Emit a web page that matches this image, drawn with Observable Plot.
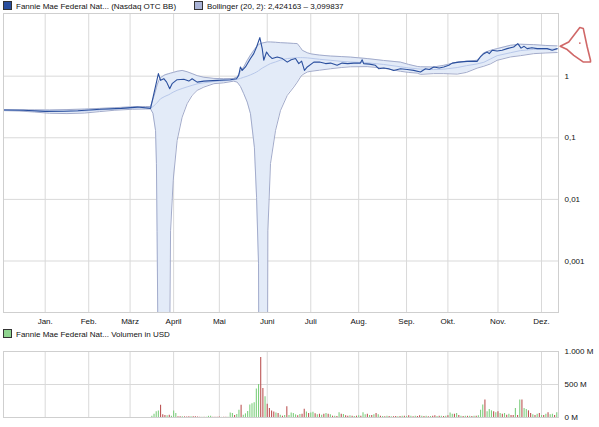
<!DOCTYPE html>
<html>
<head>
<meta charset="utf-8">
<script src="https://cdn.jsdelivr.net/npm/d3@7"></script>
<script src="https://cdn.jsdelivr.net/npm/@observablehq/plot@0.6"></script>
<style>
  html, body { margin: 0; padding: 0; background: #fff; }
  #wrap { position: relative; width: 599px; height: 427px; overflow: hidden; font-family: "Liberation Sans", Arial, sans-serif; font-size: 8px; color: #111; }
  #wrap svg { position: absolute; left: 0; }
  .leg { position: absolute; white-space: nowrap; line-height: 10px; }
  .sq { display: inline-block; width: 7px; height: 7px; border: 1px solid #333; vertical-align: -1px; margin-right: 4px; }
</style>
</head>
<body>
<div id="wrap">
  <div class="leg" style="left:3px; top:1px;"><span class="sq" style="background:#2a4f9e"></span>Fannie Mae Federal Nat... (Nasdaq OTC BB)</div>
  <div class="leg" style="left:194px; top:1px;"><span class="sq" style="background:#a9b3d6"></span>Bollinger (20, 2): 2,424163 – 3,099837</div>
  <div class="leg" style="left:3px; top:329px;"><span class="sq" style="background:#8fd48f"></span>Fannie Mae Federal Nat... Volumen in USD</div>
</div>
<script>
// ---- x axis (trading-day index, 0 = first trading day of January) ----
const monthIdx = [0, 20, 39, 59, 80, 102, 122, 144, 166, 185, 208, 228];
const monthLabels = ["Jan.", "Feb.", "März", "April", "Mai", "Juni", "Juli", "Aug.", "Sep.", "Okt.", "Nov.", "Dez."];

// ---- price y axis ----
const yTicks = [1, 0.1, 0.01, 0.001];
const yTickLabels = ["1", "0,1", "0,01", "0,001"];

// ---- price series ----
const priceDay = [-19.2,-10,0,8.4,15,25.4,35,42.4,48.4,52,53,54.5,55.8,57.2,58.3,60.6,63.7,66,67.5,69.8,72.9,79,85.1,87.9,88.9,89.7,90.5,92,94.3,95.8,97.1,98.6,99.7,100.4,101.7,102.7,104.3,106.6,109,111.2,113,115,116.5,117.8,119.1,120.4,123.4,126,128.8,131.1,134.1,136.4,139,141.8,144.8,145.6,146.3,149,151.7,153.2,155.5,157.8,160.1,163.2,166.3,169.3,172.4,174.7,176.5,178.5,181,183.1,185.4,187,190,193.8,198.4,199.9,201.5,203,204,205.3,207.6,209.9,212.2,215.2,217.1,218.6,220,221.4,223.6,226,228.3,230.6,232.9,235.2];
const priceVal = [0.283,0.28,0.268,0.27,0.275,0.29,0.30,0.315,0.30,1.10,0.855,0.91,0.80,0.627,0.755,0.877,0.89,0.832,0.91,0.80,0.832,0.855,0.877,0.91,1.03,1.41,1.24,1.41,1.93,2.32,2.97,4.23,2.80,1.81,2.47,2.18,1.93,2.05,1.93,1.69,1.85,1.93,1.60,1.75,1.24,1.41,1.69,1.70,1.60,1.63,1.50,1.63,1.60,1.63,1.63,1.85,1.60,1.57,1.50,1.32,1.36,1.32,1.24,1.32,1.28,1.24,1.17,1.32,1.28,1.41,1.36,1.41,1.50,1.63,1.69,1.74,1.74,2.05,2.32,2.47,2.32,2.63,2.56,2.63,2.80,2.97,3.38,2.85,3.05,2.80,2.90,2.80,2.80,2.80,2.63,2.80];

// ---- Bollinger (20, 2) bands ----
const bandDay = [-19.2,-12,-5,2,10,18,25,32,40,46,48.4,49.5,50.7,51.1,51.4,52.2,53,55,56.8,57.6,58.8,60.6,62.9,65.2,67.5,69.8,72.9,77.5,82,86.6,88.2,89.7,91.2,92.8,94.3,96.1,97.1,98,98.3,99.7,102,102.3,103.5,105.8,108.1,111.2,114.2,115.8,117.3,118.1,120.4,122.1,126,131.1,136,140.2,147.9,155.4,163.2,167,170.9,172.4,178.4,183.1,189.3,193.5,198.4,201.5,204.5,207.6,213.7,218.3,224.4,230,235.2];
const bandLow = [0.276,0.272,0.262,0.25,0.247,0.252,0.266,0.28,0.29,0.293,0.294,0.25,0.131,0.038,0.003,1e-6,1e-6,1e-6,1e-6,0.0031,0.0204,0.09,0.216,0.357,0.488,0.588,0.665,0.755,0.78,0.83,0.80,0.68,0.52,0.38,0.246,0.0703,0.0108,0.0009,1e-6,1e-6,1e-6,0.0031,0.0382,0.131,0.278,0.488,0.665,0.80,0.97,1.05,1.17,1.20,1.25,1.32,1.38,1.42,1.43,1.35,1.20,1.15,1.12,1.07,1.10,1.10,1.08,1.15,1.35,1.45,1.58,1.81,2.05,2.15,2.32,2.38,2.42];
const bandMid = [0.281,0.278,0.274,0.27,0.268,0.272,0.282,0.293,0.303,0.306,0.306,0.32,0.35,0.36,0.37,0.40,0.43,0.47,0.50,0.52,0.55,0.59,0.63,0.67,0.71,0.75,0.78,0.82,0.84,0.87,0.89,0.92,0.96,1.0,1.05,1.12,1.17,1.22,1.25,1.35,1.50,1.52,1.60,1.70,1.82,1.93,1.98,2.0,2.0,2.0,1.98,1.95,1.88,1.81,1.74,1.70,1.65,1.55,1.42,1.36,1.32,1.30,1.28,1.30,1.38,1.48,1.58,1.68,1.90,2.15,2.40,2.60,2.72,2.75,2.76];
const bandUp = [0.287,0.285,0.284,0.283,0.287,0.292,0.30,0.308,0.318,0.322,0.322,0.42,0.58,0.65,0.72,0.85,0.95,1.05,1.10,1.12,1.15,1.20,1.24,1.18,1.10,1.02,0.96,0.92,0.91,0.92,0.97,1.20,1.41,1.8,2.2,2.7,3.0,3.25,3.3,3.45,3.59,3.59,3.59,3.55,3.5,3.45,3.40,3.38,2.9,2.63,2.40,2.30,2.2,2.12,2.08,2.04,1.93,1.80,1.69,1.55,1.44,1.42,1.41,1.50,1.69,1.75,1.81,2.40,2.62,2.80,3.17,3.30,3.25,3.15,3.10];

// ---- end-of-series marker (outline in chart units) ----
const markerDay = [236.6,240.5,245.6,247.2,249.0,250.5,250.5,247.1,242.8,239.8,236.6];
const markerVal = [3.05,3.58,6.15,5.92,2.97,1.81,1.70,1.70,2.18,2.70,3.05];
const markerEyeDay = [245.6];
const markerEyeVal = [3.45];

// ---- volume (million USD), one bar per trading day from day 49 ----
const volStartDay = 49;
const volume = [
  20,50,86,100,187,40,30,25,35,20,
  100,60,12,10,12,10,8,10,12,10,
  10,8,3,2,2,3,18,20,3,2,
  2,8,2,2,2,3,
  70,60,30,45,110,187,35,55,90,190,
  210,225,430,500,909,440,313,200,135,100,
  85,70,60,35,20,30,162,30,70,60,
  40,25,45,50,126,85,60,70,80,55,
  40,50,35,50,60,50,40,20,18,15,
  71,50,45,25,20,25,18,15,20,25,
  20,71,40,50,30,30,40,60,40,20,
  15,12,20,15,10,12,15,10,15,18,
  20,15,25,18,12,20,15,25,18,15,
  20,12,15,20,25,15,18,20,15,20,
  25,70,50,50,60,30,20,15,20,18,
  20,15,18,20,25,111,188,264,86,122,
  101,86,71,86,61,50,61,35,50,30,
  30,137,30,264,264,137,122,101,61,40,
  30,50,61,30,30,50,71,40,50,30,
  71
];
const volDir = "ggggrrrgrg" + "ggrrgrrrgr" + "rrrgrgggrr" + "rrgrrg" + "ggrggrgggg" + "ggggrrgrrr" +
  "rgrgrgrggg" + "grgrrgrggr" + "grgrgrgrgr" + "grgrrgrgrg" + "rggrgrgrgr" + "grgrgrrgrg" +
  "rgrgrgrrgr" + "grgrrgrgrg" + "rggrgrgrgr" + "grgrgggrgg" + "grgrgrgrgr" + "rgrgrggrrg" +
  "rgrgrgrggr" + "g";
const volTicks = [0, 500, 1000];
const volTickLabels = ["0 M", "500 M", "1.000 M"];

// ---- build tables ----
const price = priceDay.map((d, i) => ({day: d, v: priceVal[i]}));
const bands = bandDay.map((d, i) => ({day: d, lo: bandLow[i], mid: bandMid[i], up: bandUp[i]}));
const marker = markerDay.map((d, i) => ({day: d, v: markerVal[i]}));
const eye = markerEyeDay.map((d, i) => ({day: d, v: markerEyeVal[i]}));
const vols = volume.map((v, i) => ({day: volStartDay + i, v, dir: volDir[i]}));

const xDomain = [-19.15, 235.8];
const gridColor = "#d9d9d9";
const frameColor = "#cfcfcf";
const font = {fontFamily: "Liberation Sans, Arial, sans-serif", fontSize: "8px", color: "#111", background: "transparent", overflow: "visible"};

const topChart = Plot.plot({
  width: 599, height: 330,
  marginLeft: 3, marginRight: 41, marginTop: 13, marginBottom: 18,
  style: font,
  x: {domain: xDomain},
  y: {type: "log", domain: [1.46e-4, 10.4]},
  marks: [
    Plot.gridX(monthIdx, {stroke: gridColor, strokeOpacity: 1}),
    Plot.gridY(yTicks, {stroke: gridColor, strokeOpacity: 1}),
    Plot.areaY(bands, {x: "day", y1: "lo", y2: "up", fill: "#e3ebf8", clip: true}),
    Plot.line(bands, {x: "day", y: "lo", stroke: "#a2abcb", strokeWidth: 1, clip: true}),
    Plot.line(bands, {x: "day", y: "up", stroke: "#a2abcb", strokeWidth: 1, clip: true}),
    Plot.line(bands, {x: "day", y: "mid", stroke: "#b8c8ea", strokeWidth: 1, clip: true}),
    Plot.line(price, {x: "day", y: "v", stroke: "#2a4f9e", strokeWidth: 1.1, clip: true}),
    Plot.frame({stroke: frameColor}),
    Plot.line(marker, {x: "day", y: "v", stroke: "#d06868", strokeWidth: 1.6}),
    Plot.dot(eye, {x: "day", y: "v", r: 0.9, fill: "#d06868", stroke: null}),
    Plot.axisX(monthIdx, {anchor: "bottom", tickSize: 0, tickPadding: 6, label: null, tickFormat: d => monthLabels[monthIdx.indexOf(d)]}),
    Plot.axisY(yTicks, {anchor: "right", tickSize: 0, tickPadding: 6, label: null, tickFormat: d => yTickLabels[yTicks.indexOf(d)]})
  ]
});
topChart.style.top = "0px";

const bottomChart = Plot.plot({
  width: 599, height: 87,
  marginLeft: 3, marginRight: 41, marginTop: 11, marginBottom: 10,
  style: font,
  x: {domain: xDomain, axis: null},
  y: {domain: [0, 1000]},
  marks: [
    Plot.gridX(monthIdx, {stroke: gridColor, strokeOpacity: 1}),
    Plot.gridY([500], {stroke: gridColor, strokeOpacity: 1}),
    Plot.frame({stroke: frameColor}),
    Plot.ruleX(vols.filter(d => d.dir === "g"), {x: "day", y1: 0, y2: "v", stroke: "#7fcf7f", strokeWidth: 1.1}),
    Plot.ruleX(vols.filter(d => d.dir === "r"), {x: "day", y1: 0, y2: "v", stroke: "#bd5656", strokeWidth: 1.1}),
    Plot.axisY(volTicks, {anchor: "right", tickSize: 0, tickPadding: 6, label: null, tickFormat: d => volTickLabels[volTicks.indexOf(d)]})
  ]
});
bottomChart.style.top = "340px";

const wrap = document.getElementById("wrap");
wrap.appendChild(topChart);
wrap.appendChild(bottomChart);
</script>
</body>
</html>
